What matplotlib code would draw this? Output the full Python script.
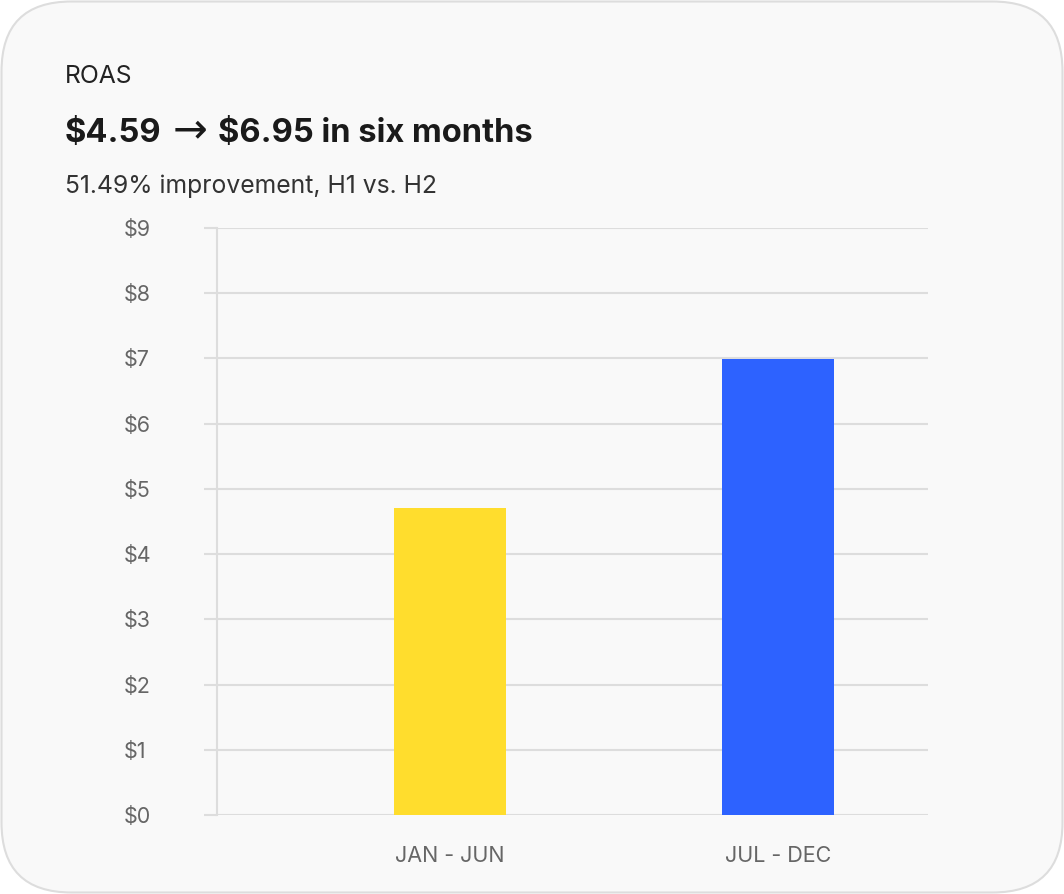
import matplotlib
matplotlib.use("Agg")
import matplotlib.pyplot as plt
from matplotlib.patches import FancyBboxPatch

categories = ["JAN - JUN", "JUL - DEC"]
roas_values = [4.70, 6.99]
bar_colors = ["#FFDD2D", "#2D62FF"]
y_ticks = [0, 1, 2, 3, 4, 5, 6, 7, 8, 9]
y_tick_labels = ["$" + str(v) for v in y_ticks]

label_text = "ROAS"
title_start = "$4.59"
title_arrow = "\u2192"
title_end = "$6.95 in six months"
subtitle_text = "51.49% improvement, H1 vs. H2"

plt.rcParams["font.family"] = ["Inter", "DejaVu Sans"]
plt.rcParams["text.parse_math"] = False

W, H = 1064, 894
fig = plt.figure(figsize=(W / 100, H / 100), dpi=100)
fig.patch.set_facecolor("white")

bg = fig.add_axes([0, 0, 1, 1])
bg.set_xlim(0, W)
bg.set_ylim(H, 0)
bg.axis("off")
card = FancyBboxPatch((1.5, 1.5), W - 3, H - 3,
                      boxstyle="round,pad=0,rounding_size=70",
                      facecolor="#F9F9F9", edgecolor="#DDDDDD", linewidth=1.5)
bg.add_patch(card)

bg.text(65, 83, label_text, fontsize=17.8, color="#222222", va="baseline", ha="left")

renderer = fig.canvas.get_renderer()
t1 = bg.text(65, 142, title_start, fontsize=23.5, fontweight="bold", color="#1A1A1A",
             va="baseline", ha="left")
x_after1 = t1.get_window_extent(renderer).x1
t2 = bg.text(x_after1 + 11, 142, title_arrow, fontsize=30, fontweight="normal",
             color="#1A1A1A", va="baseline", ha="left", family=["DejaVu Sans"])
x_after2 = t2.get_window_extent(renderer).x1
bg.text(x_after2 + 11, 142, title_end, fontsize=23.5, fontweight="bold", color="#1A1A1A",
        va="baseline", ha="left")

bg.text(65, 193, subtitle_text, fontsize=17.8, color="#333333", va="baseline", ha="left")

left, right, top, bottom = 217, 928, 228, 815
ax = fig.add_axes([left / W, (H - bottom) / H, (right - left) / W, (bottom - top) / H])
ax.set_facecolor("none")

x = list(range(len(categories)))
ax.bar(x, roas_values, width=112 / 328, color=bar_colors, zorder=3)

ax.set_ylim(0, 9)
ax.set_xlim((left - 450) / 328, (right - 450) / 328)
ax.set_yticks(y_ticks)
ax.set_yticklabels(y_tick_labels)
ax.set_xticks(x)
ax.set_xticklabels(categories)

ax.grid(axis="y", color="#DDDDDD", linewidth=1.5, zorder=0)
ax.tick_params(axis="y", length=9.4, width=1.5, color="#DDDDDD", pad=58,
               labelsize=15.5, labelcolor="#666666")
for lbl in ax.get_yticklabels():
    lbl.set_horizontalalignment("left")
ax.tick_params(axis="x", length=0, pad=22, labelsize=15.5, labelcolor="#666666")

for s in ["top", "right", "bottom"]:
    ax.spines[s].set_visible(False)
ax.spines["left"].set_color("#DDDDDD")
ax.spines["left"].set_linewidth(1.5)

fig.savefig("out.png", dpi=100, facecolor="white")
